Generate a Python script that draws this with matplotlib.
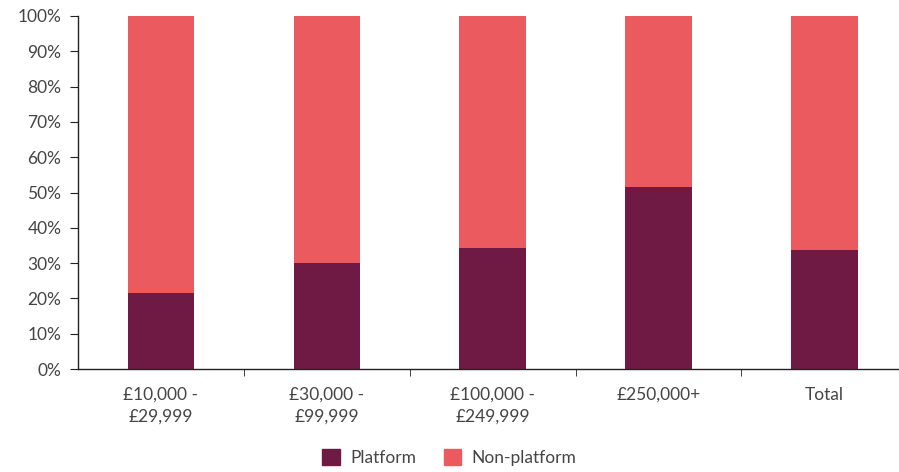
import matplotlib
matplotlib.use("Agg")
import matplotlib.pyplot as plt
from matplotlib.ticker import PercentFormatter, FixedLocator
from matplotlib.patches import Patch

categories = ["£10,000 -\n£29,999", "£30,000 -\n£99,999", "£100,000 -\n£249,999", "£250,000+", "Total"]
platform = [21.5, 30.0, 34.2, 51.6, 33.7]
non_platform = [100 - v for v in platform]

plat_color = "#6E1A45"
non_color = "#EB5A5E"
text_color = "#454545"

plt.rcParams["font.family"] = ["Lato", "DejaVu Sans"]

fig = plt.figure(figsize=(8.99, 4.72), dpi=100)
ax = fig.add_axes([78 / 899, 103 / 472, 1 - 78 / 899, 353 / 472])

x = list(range(len(categories)))
ax.bar(x, platform, width=0.4, color=plat_color, zorder=2)
ax.bar(x, non_platform, bottom=platform, width=0.4, color=non_color, zorder=2)

ax.set_ylim(0, 100)
ax.set_xlim(-0.5, 4.45)
ax.set_yticks(range(0, 101, 10))
ax.yaxis.set_major_formatter(PercentFormatter(decimals=0))
ax.set_xticks(x)
ax.set_xticklabels(categories, linespacing=1.45)
ax.xaxis.set_minor_locator(FixedLocator([i + 0.5 for i in range(len(categories))]))
ax.tick_params(axis="x", which="major", length=0, pad=13, labelsize=12.5, colors=text_color)
ax.tick_params(axis="x", which="minor", length=5, color="#222222")
ax.tick_params(axis="y", length=6, pad=6, labelsize=12.5, colors=text_color)
ax.tick_params(axis="y", color="#222222")

for side in ["top", "right"]:
    ax.spines[side].set_visible(False)
for side in ["left", "bottom"]:
    ax.spines[side].set_color("#222222")
    ax.spines[side].set_linewidth(1)

handles = [Patch(color=plat_color, label="Platform"), Patch(color=non_color, label="Non-platform")]
fig.legend(handles=handles, loc="lower center", bbox_to_anchor=(0.5, -0.02), ncol=2, frameon=False,
           fontsize=12.5, handlelength=1.0, handleheight=1.0, handletextpad=0.6,
           columnspacing=1.6, labelcolor=text_color)

fig.savefig("out.png", dpi=100)
